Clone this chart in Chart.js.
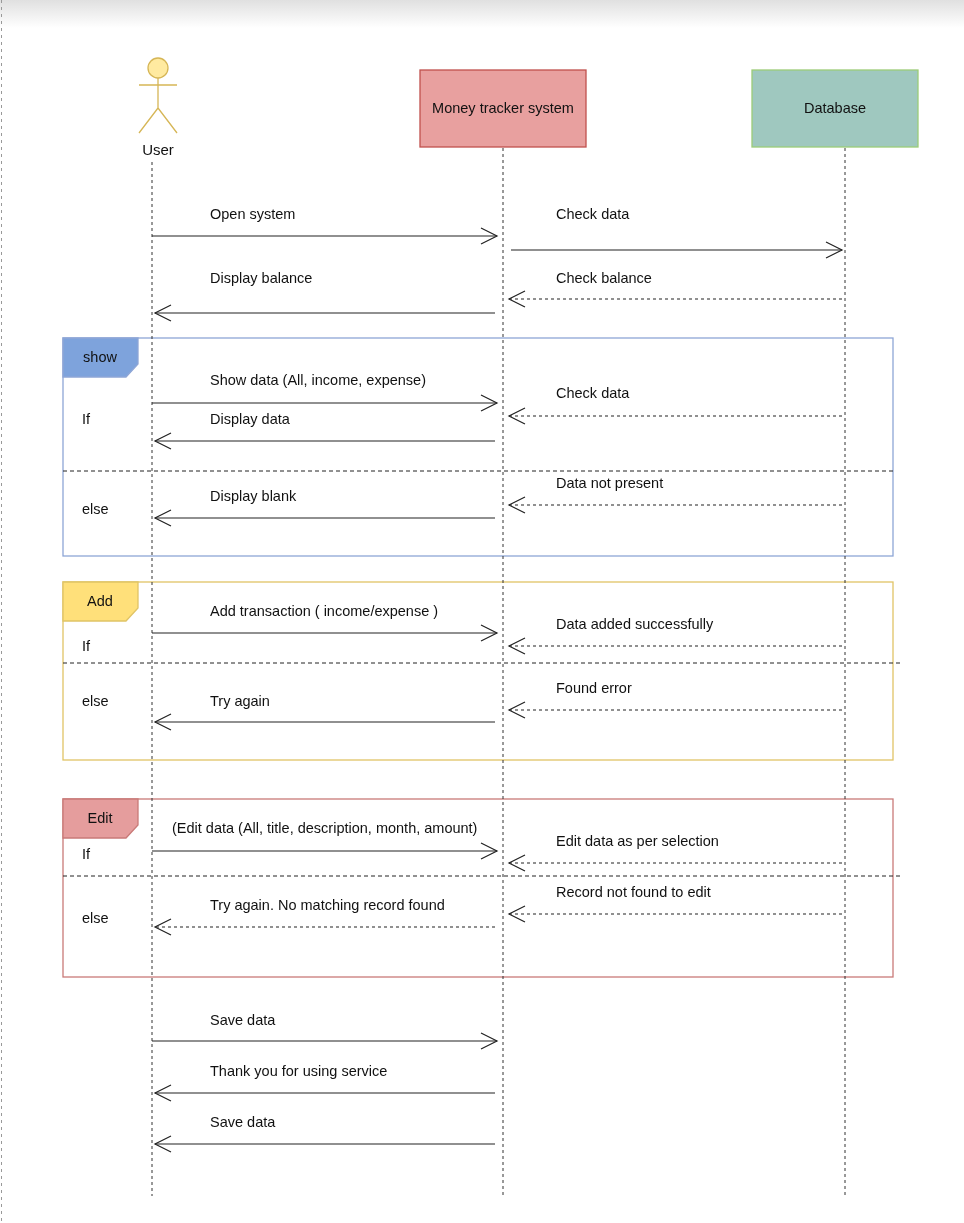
<!DOCTYPE html>
<html><head><meta charset="utf-8">
<script src="https://cdn.jsdelivr.net/npm/chart.js@4"></script>
<style>html,body{margin:0;padding:0;background:#fff;}canvas{display:block;}</style>
</head><body>
<canvas id="c" width="964" height="1223"></canvas>
<script>
// Participants: name, lifeline x
const participants = ["User", "Money tracker system", "Database"];
const lifelineX = [152, 503, 845];
// Messages: from index, to index, line y, label, dashed
const msgFrom = [0,1,2,1, 0,2,1,2,1, 0,2,2,1, 0,2,2,1, 0,1,1];
const msgTo   = [1,2,1,0, 1,1,0,1,0, 1,1,1,0, 1,1,1,0, 1,0,0];
const msgY    = [236,250,299,313, 403,416,441,505,518, 633,646,710,722, 851,863,914,927, 1041,1093,1144];
const msgLabelY=[215,215,279,279, 381,394,420,484,497, 612,625,689,702, 829,842,893,906, 1021,1072,1123];
const msgLabel = ["Open system","Check data","Check balance","Display balance",
  "Show data (All, income, expense)","Check data","Display data","Data not present","Display blank",
  "Add transaction ( income/expense )","Data added successfully","Found error","Try again",
  "(Edit data (All, title, description, month, amount)","Edit data as per selection","Record not found to edit","Try again. No matching record found",
  "Save data","Thank you for using service","Save data"];
const msgDashed = [0,0,1,0, 0,1,0,1,0, 0,1,1,0, 0,1,1,1, 0,0,0];
// Fragments
const fragName = ["show","Add","Edit"];
const fragTop = [338,582,799];
const fragBottom = [556,760,977];
const fragDivider = [471,663,876];
const fragIfY = [420,647,855];
const fragElseY = [510,702,919];
const fragStroke = ["#8ea6d6","#e0c466","#c97a78"];
const fragFill = ["#7ea3dc","#ffe07a","#e59d9d"];

const FONT = '14.5px "Liberation Sans", Arial, sans-serif';
const diagram = {
  id:'diagram',
  afterDraw(chart){
    const ctx = chart.ctx, X = v=>chart.scales.x.getPixelForValue(v), Y = v=>chart.scales.y.getPixelForValue(v);
    ctx.save();
    const g = ctx.createLinearGradient(0,Y(0),0,Y(28));
    g.addColorStop(0,'#e0e0e0'); g.addColorStop(1,'#ffffff');
    ctx.fillStyle=g; ctx.fillRect(X(0),Y(0),X(964)-X(0),Y(28)-Y(0));
    ctx.strokeStyle='#999'; ctx.lineWidth=1; ctx.setLineDash([3,4]);
    ctx.beginPath(); ctx.moveTo(X(1.5),Y(0)); ctx.lineTo(X(1.5),Y(1223)); ctx.stroke();
    ctx.setLineDash([]);
    fragName.forEach((n,i)=>{
      ctx.strokeStyle=fragStroke[i]; ctx.lineWidth=1.3;
      ctx.strokeRect(X(63),Y(fragTop[i]),X(893)-X(63),Y(fragBottom[i])-Y(fragTop[i]));
      const t=fragTop[i];
      ctx.fillStyle=fragFill[i];
      ctx.beginPath(); ctx.moveTo(X(63),Y(t)); ctx.lineTo(X(138),Y(t)); ctx.lineTo(X(138),Y(t+26));
      ctx.lineTo(X(126),Y(t+39)); ctx.lineTo(X(63),Y(t+39)); ctx.closePath(); ctx.fill(); ctx.stroke();
      ctx.fillStyle='#111'; ctx.font=FONT; ctx.textBaseline='middle'; ctx.textAlign='center';
      ctx.fillText(n,X(100),Y(t+20));
      ctx.textAlign='left';
      ctx.fillText("If",X(82),Y(fragIfY[i]));
      ctx.fillText("else",X(82),Y(fragElseY[i]));
      ctx.strokeStyle='#222'; ctx.lineWidth=1; ctx.setLineDash([4,3]);
      ctx.beginPath(); ctx.moveTo(X(63),Y(fragDivider[i])); ctx.lineTo(X(i===0?893:903),Y(fragDivider[i])); ctx.stroke();
      ctx.setLineDash([]);
    });
    const boxFill=[null,"#e8a09f","#9fc8bf"], boxStroke=[null,"#c0504d","#9ccc78"];
    for(let i=1;i<3;i++){
      const x0=i===1?420:752;
      ctx.fillStyle=boxFill[i]; ctx.strokeStyle=boxStroke[i]; ctx.lineWidth=1.3;
      ctx.fillRect(X(x0),Y(70),X(x0+166)-X(x0),Y(147)-Y(70));
      ctx.strokeRect(X(x0),Y(70),X(x0+166)-X(x0),Y(147)-Y(70));
      ctx.fillStyle='#111'; ctx.textAlign='center'; ctx.textBaseline='middle';
      ctx.font=FONT;
      ctx.fillText(participants[i],X(x0+83),Y(109));
    }
    ctx.strokeStyle='#d6b656'; ctx.fillStyle='#ffeaa0'; ctx.lineWidth=1.3;
    ctx.beginPath(); ctx.arc(X(158),Y(68),10,0,Math.PI*2); ctx.fill(); ctx.stroke();
    ctx.beginPath(); ctx.moveTo(X(158),Y(78)); ctx.lineTo(X(158),Y(108));
    ctx.moveTo(X(139),Y(85)); ctx.lineTo(X(177),Y(85));
    ctx.moveTo(X(158),Y(108)); ctx.lineTo(X(139),Y(133));
    ctx.moveTo(X(158),Y(108)); ctx.lineTo(X(177),Y(133)); ctx.stroke();
    ctx.fillStyle='#111'; ctx.textAlign='center'; ctx.font='15px "Liberation Sans", Arial, sans-serif';
    ctx.fillText(participants[0],X(158),Y(151));
    ctx.strokeStyle='#333'; ctx.lineWidth=1; ctx.setLineDash([3,3]);
    lifelineX.forEach((x,i)=>{ctx.beginPath(); ctx.moveTo(X(x),Y(i===0?162:148)); ctx.lineTo(X(x),Y(1196)); ctx.stroke();});
    ctx.font=FONT; ctx.textAlign='left';
    msgY.forEach((y,i)=>{
      const a=lifelineX[msgFrom[i]], b=lifelineX[msgTo[i]];
      const dir=Math.sign(b-a);
      const x2=b-dir*(msgTo[i]===1?6:3);
      const xs = (msgFrom[i]===1)? a+dir*8 : (msgFrom[i]===2? a-3 : a);
      ctx.strokeStyle='#222'; ctx.lineWidth=1.2;
      ctx.setLineDash(msgDashed[i]?[3,3]:[]);
      ctx.beginPath(); ctx.moveTo(X(xs),Y(y)); ctx.lineTo(X(x2),Y(y)); ctx.stroke();
      ctx.setLineDash([]);
      ctx.beginPath(); ctx.moveTo(X(x2-dir*16),Y(y-8)); ctx.lineTo(X(x2),Y(y)); ctx.lineTo(X(x2-dir*16),Y(y+8)); ctx.stroke();
      const lx = (msgFrom[i]===0||msgTo[i]===0) ? (i===13?172:210) : 556;
      ctx.fillStyle='#111'; ctx.textBaseline='middle';
      ctx.fillText(msgLabel[i],X(lx),Y(msgLabelY[i]));
    });
    ctx.restore();
  }
};
new Chart(document.getElementById('c'),{
  type:'scatter',
  data:{datasets:[{data:[]}]},
  options:{responsive:false,animation:false,layout:{padding:0},
    plugins:{legend:{display:false},tooltip:{enabled:false}},
    scales:{x:{type:'linear',min:0,max:964,display:false},y:{type:'linear',min:0,max:1223,reverse:true,display:false}}},
  plugins:[diagram]
});
</script>
</body></html>
